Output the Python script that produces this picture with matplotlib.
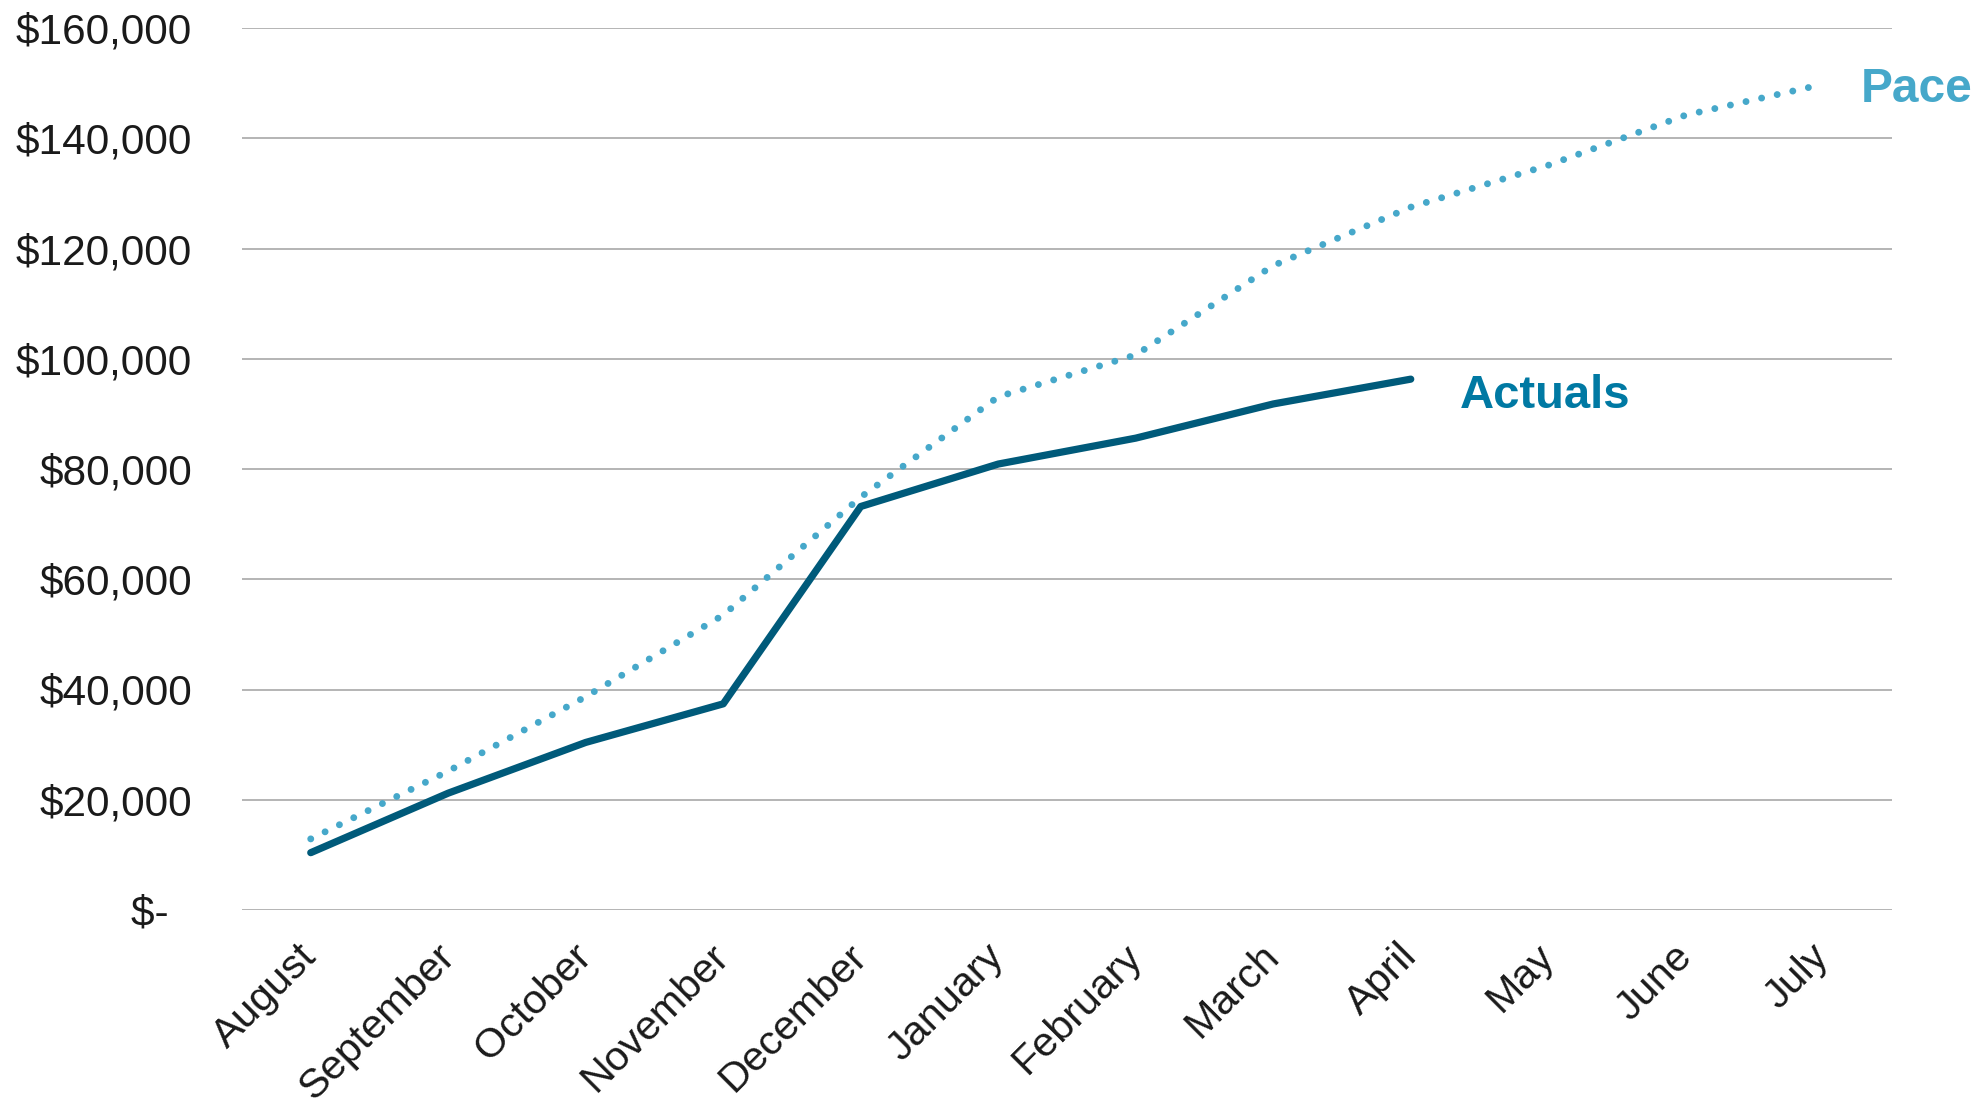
import matplotlib
matplotlib.use("Agg")
import matplotlib.pyplot as plt
from matplotlib.ticker import FixedLocator, FuncFormatter

plt.rcParams['font.family'] = ['Liberation Sans', 'DejaVu Sans']

# Fiscal-year months and cumulative dollar values
months = ["August", "September", "October", "November", "December", "January",
          "February", "March", "April", "May", "June", "July"]
actuals = [10400, 21200, 30400, 37400, 73200, 80900, 85600, 91800, 96300]
pace = [12900, 25200, 38700, 53500, 74900, 93100, 100700, 116900, 127500,
        135100, 144200, 149800]
y_ticks = [0, 20000, 40000, 60000, 80000, 100000, 120000, 140000, 160000]

ACTUAL_LINE = "#005A7A"
ACTUAL_TEXT = "#0079A3"
PACE_COLOR = "#46A8CA"
GRID_COLOR = "#AFAFAF"
TEXT_COLOR = "#1A1A1A"

fig = plt.figure(figsize=(19.85, 11.08), dpi=100)
ax = fig.add_axes([242 / 1985, 1 - 910 / 1108, (1892 - 242) / 1985, (910 - 28) / 1108])

x_pace = list(range(len(pace)))
x_act = list(range(len(actuals)))

ax.plot(x_pace, pace, color=PACE_COLOR, lw=5, linestyle=(0, (0.001, 2.3)),
        dash_capstyle='round', solid_capstyle='round', clip_on=False, zorder=3)
ax.plot(x_act, actuals, color=ACTUAL_LINE, lw=5.2, solid_capstyle='round',
        solid_joinstyle='round', clip_on=False, zorder=4)

# Series labels at the end of each line
ax.annotate("Pace", xy=(x_pace[-1], pace[-1]), xytext=(27, -12.6),
            textcoords='offset points', ha='left', va='baseline',
            fontsize=34.5, fontweight='bold', color=PACE_COLOR, annotation_clip=False)
ax.annotate("Actuals", xy=(x_act[-1], actuals[-1]), xytext=(35, -21),
            textcoords='offset points', ha='left', va='baseline',
            fontsize=34, fontweight='bold', color=ACTUAL_TEXT, annotation_clip=False)

ax.set_xlim(-0.5, len(months) - 0.5)
ax.set_ylim(0, 160000)

ax.yaxis.set_major_locator(FixedLocator(y_ticks))
ax.yaxis.set_major_formatter(FuncFormatter(
    lambda v, p: "$-  " if v == 0 else f"${v:,.0f}"))
ax.set_xticks(x_pace)
ax.set_xticklabels(months, rotation=45, ha='right', va='center',
                   rotation_mode='anchor')

ax.tick_params(axis='y', length=0, pad=36, labelsize=30.5, labelcolor=TEXT_COLOR)
ax.tick_params(axis='x', length=0, pad=29, labelsize=29.8, labelcolor=TEXT_COLOR)

ax.grid(axis='y', color=GRID_COLOR, lw=1.3)
ax.grid(axis='x', visible=False)
ax.set_axisbelow(True)
for s in ax.spines.values():
    s.set_visible(False)

fig.savefig("out.png", dpi=100, facecolor='white')
